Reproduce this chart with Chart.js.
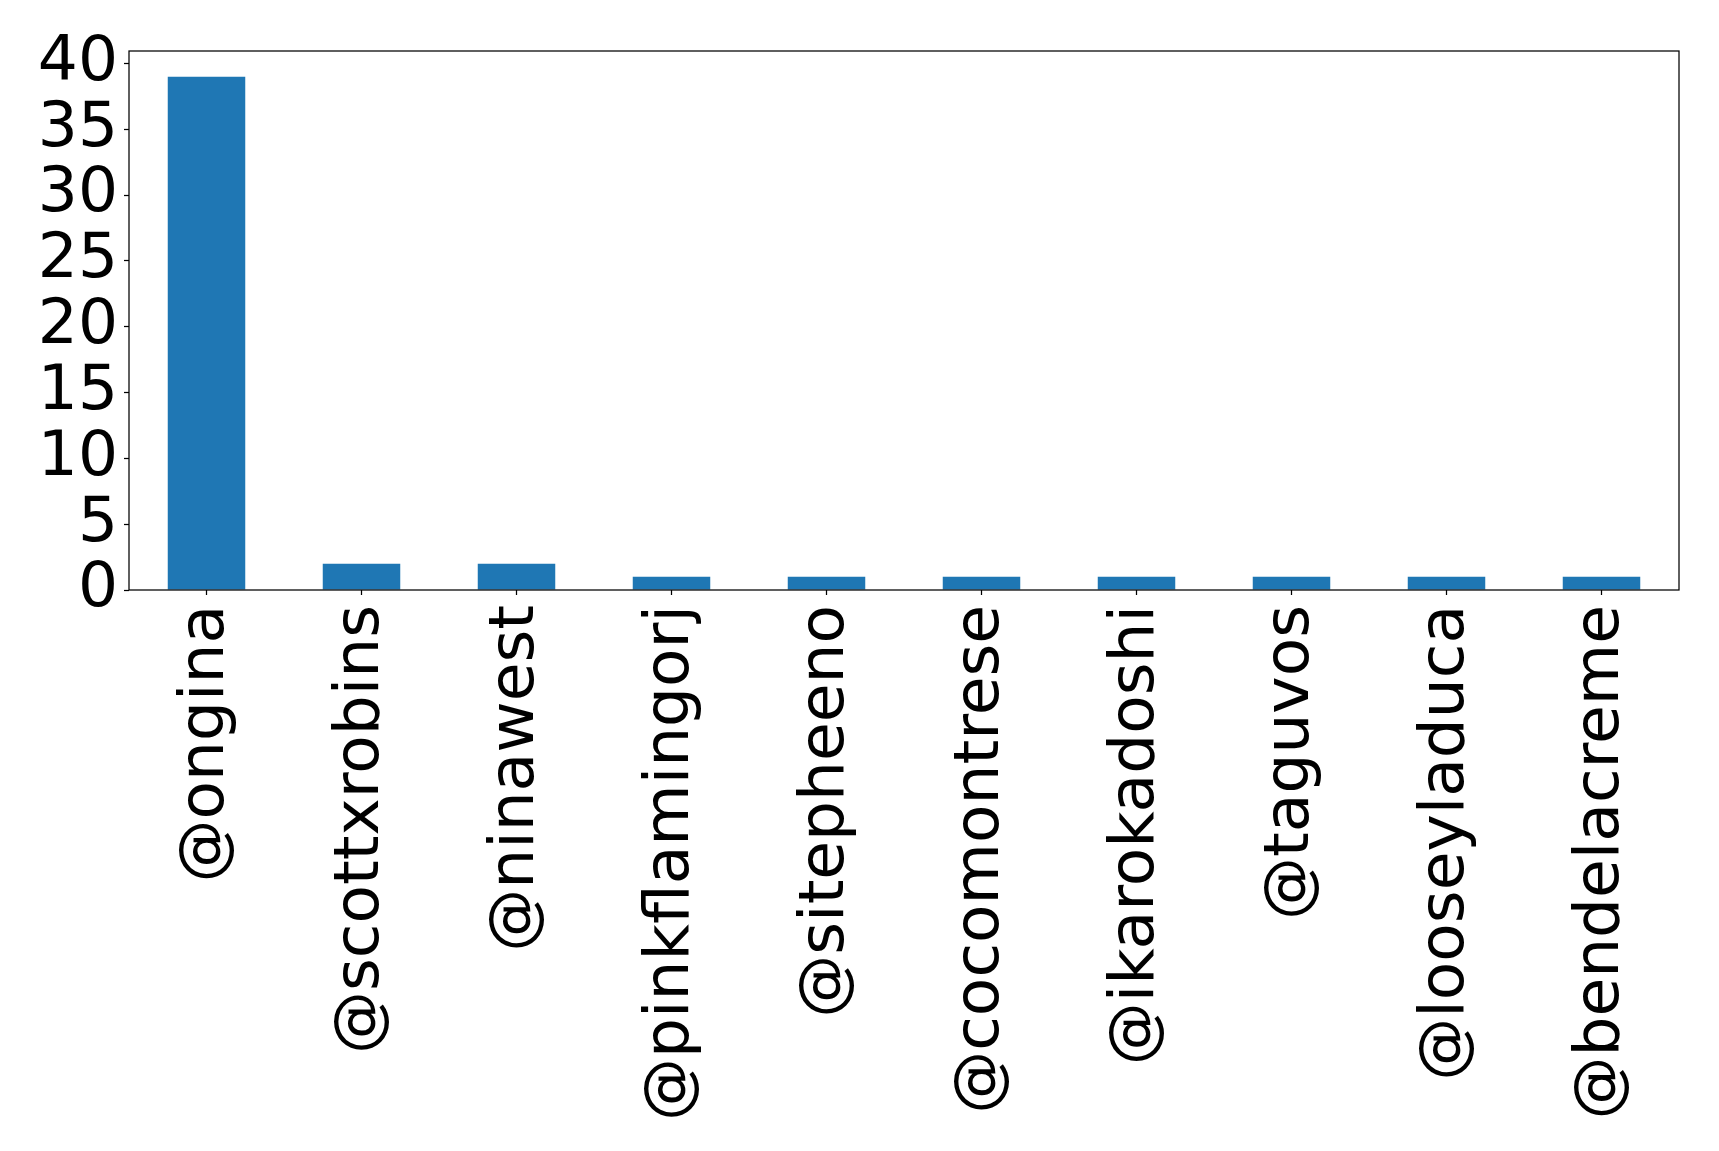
<!DOCTYPE html>
<html>
<head>
<meta charset="utf-8">
<script src="https://cdn.jsdelivr.net/npm/chart.js@4"></script>
<style>
  html, body { margin: 0; padding: 0; background: #fff; }
  canvas { display: block; }
</style>
</head>
<body>
<canvas id="chart" width="1719" height="1151"></canvas>
<script>
// handles and mention counts
const handles = ['@ongina', '@scottxrobins', '@ninawest', '@pinkflamingorj', '@sitepheeno',
                 '@cocomontrese', '@ikarokadoshi', '@taguvos', '@looseyladuca', '@bendelacreme'];
const counts = [39, 2, 2, 1, 1, 1, 1, 1, 1, 1];
const yTicks = [0, 5, 10, 15, 20, 25, 30, 35, 40];

const FONT = { family: 'DejaVu Sans', size: 63 };

// matplotlib-style box round the plot area
const frame = {
    id: 'frame',
    afterDraw(chart) {
        const a = chart.chartArea;
        const ctx = chart.ctx;
        ctx.save();
        ctx.strokeStyle = '#000';
        ctx.lineWidth = 1.25;
        ctx.strokeRect(a.left, a.top, a.right - a.left, a.bottom - a.top);
        ctx.restore();
    }
};

new Chart(document.getElementById('chart').getContext('2d'), {
    type: 'bar',
    data: {
        labels: handles,
        datasets: [{
            data: counts,
            backgroundColor: '#1f77b4',
            borderWidth: 0,
            barPercentage: 0.5,
            categoryPercentage: 1.0
        }]
    },
    options: {
        responsive: false,
        animation: false,
        layout: { padding: { top: 51, right: 40, left: 0, bottom: 0 } },
        plugins: { legend: { display: false }, tooltip: { enabled: false } },
        scales: {
            x: {
                offset: true,
                grid: { offset: false, drawOnChartArea: false, tickLength: 5, tickColor: '#000', tickWidth: 1.25 },
                border: { display: false },
                ticks: {
                    color: '#000', font: FONT, padding: 10,
                    autoSkip: false, minRotation: 90, maxRotation: 90
                },
                afterFit(scale) { scale.height = 1151 - 590; }
            },
            y: {
                min: 0,
                max: 40.95,
                grid: { drawOnChartArea: false, tickLength: 5, tickColor: '#000', tickWidth: 1.25 },
                border: { display: false },
                ticks: { color: '#000', font: FONT, padding: 6, stepSize: 5, includeBounds: false, autoSkip: false },
                afterBuildTicks(scale) { scale.ticks = yTicks.map(v => ({ value: v })); },
                afterFit(scale) { scale.width = 129; }
            }
        }
    },
    plugins: [frame]
});
</script>
</body>
</html>
